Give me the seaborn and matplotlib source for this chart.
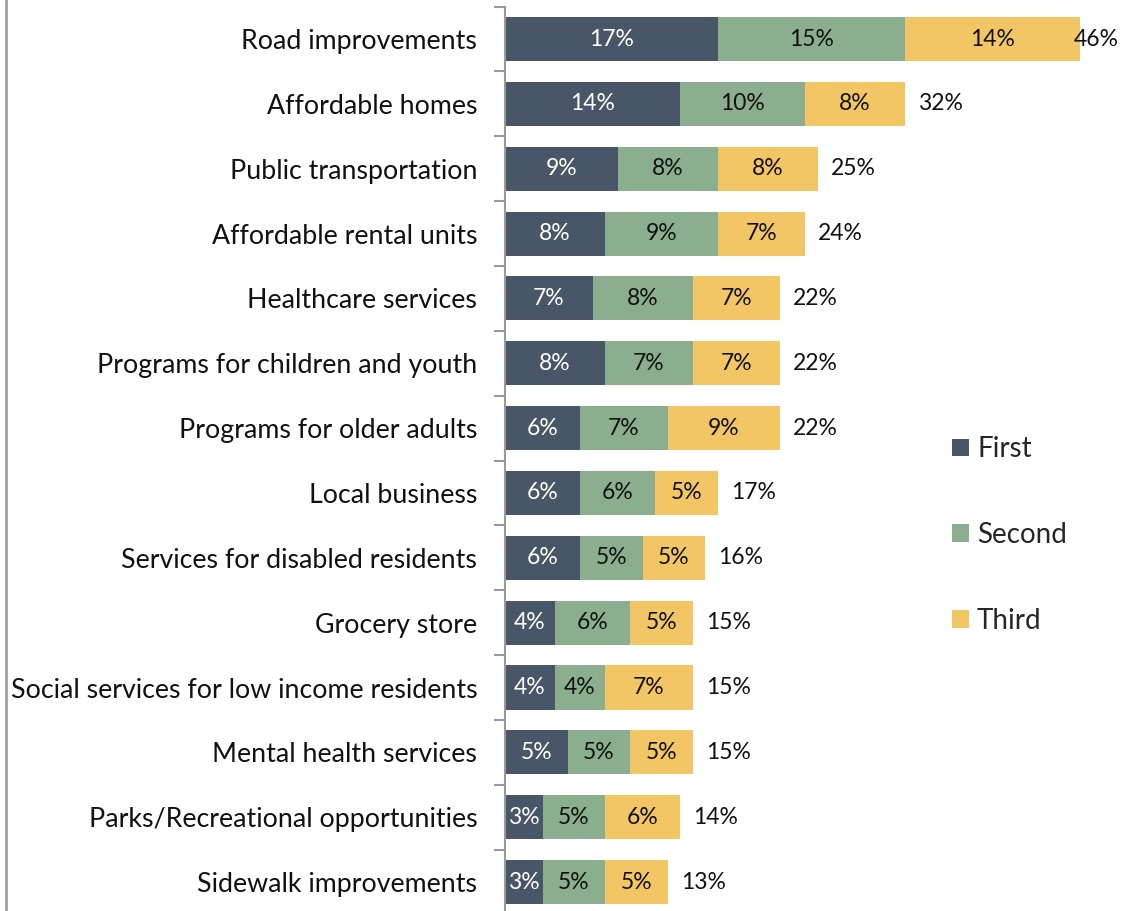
import matplotlib
matplotlib.use("Agg")
import matplotlib.pyplot as plt
from matplotlib.lines import Line2D
from matplotlib.patches import Patch
import numpy as np
import pandas as pd
import seaborn as sns

categories = [
    "Road improvements",
    "Affordable homes",
    "Public transportation",
    "Affordable rental units",
    "Healthcare services",
    "Programs for children and youth",
    "Programs for older adults",
    "Local business",
    "Services for disabled residents",
    "Grocery store",
    "Social services for low income residents",
    "Mental health services",
    "Parks/Recreational opportunities",
    "Sidewalk improvements",
]
first = [17, 14, 9, 8, 7, 8, 6, 6, 6, 4, 4, 5, 3, 3]
second = [15, 10, 8, 9, 8, 7, 7, 6, 5, 6, 4, 5, 5, 5]
third = [14, 8, 8, 7, 7, 7, 9, 5, 5, 5, 7, 5, 6, 5]
series_names = ["First", "Second", "Third"]
colors = ["#485667", "#8BAF8E", "#F2C664"]

sns.set_theme(style="white")
plt.rcParams["font.family"] = ["Lato", "DejaVu Sans"]

df = pd.DataFrame({"category": categories, "First": first,
                   "Second": second, "Third": third})
df["c1"] = df["First"]
df["c2"] = df["First"] + df["Second"]
df["c3"] = df["c2"] + df["Third"]

fig = plt.figure(figsize=(11.27, 9.11), dpi=100)
ax = fig.add_axes([505 / 1127, 1 - 914.5 / 911, 625 / 1127, (914.5 - 6.6) / 911])

bar_w = 0.68
# Stacked bars: draw cumulative totals from the back to the front
for col, color in zip(["c3", "c2", "c1"], colors[::-1]):
    sns.barplot(data=df, x=col, y="category", orient="h", color=color,
                width=bar_w, saturation=1, ax=ax, edgecolor="none")

ax.set_xlim(0, 50)
ax.set_ylim(len(categories) - 0.5, -0.5)
ax.set_xlabel("")
ax.set_ylabel("")
ax.set_xticks([])

# Category labels at the centers, tick marks at the boundaries
ax.set_yticks(range(len(categories)))
ax.set_yticklabels(categories, fontsize=19.3, color="#111111")
ax.tick_params(axis="y", which="major", length=0, pad=20)
ax.set_yticks(np.arange(-0.5, len(categories) + 0.5, 1), minor=True)
ax.tick_params(axis="y", which="minor", left=True, length=8, width=1.5,
               color="#9A9A9A")

for s in ["top", "right", "bottom"]:
    ax.spines[s].set_visible(False)
ax.spines["left"].set_color("#9A9A9A")
ax.spines["left"].set_linewidth(1.5)

# Segment value labels
for i in range(len(categories)):
    starts = [0, first[i], first[i] + second[i]]
    vals = [first[i], second[i], third[i]]
    for j, (s0, v) in enumerate(zip(starts, vals)):
        ax.text(s0 + v / 2, i, f"{v}%", ha="center", va="center",
                fontsize=16.5, color="white" if j == 0 else "#111111")
    total = first[i] + second[i] + third[i]
    ax.text(min(total + 1.05, 45.5), i, f"{total}%", ha="left", va="center",
            fontsize=16.5, color="#111111", clip_on=False)

handles = [Patch(facecolor=c, edgecolor="none") for c in colors]
fig.legend(handles, series_names, loc="upper left",
           bbox_to_anchor=(941 / 1127, 1 - 425 / 911), frameon=False,
           fontsize=20, labelspacing=2.15, handlelength=0.6,
           handleheight=0.6, handletextpad=0.3, borderaxespad=0)

# Thin gray frame line on the left edge
fig.add_artist(Line2D([5.5 / 1127, 5.5 / 1127], [0, 1], color="#A0A0A0",
                      linewidth=2, transform=fig.transFigure))

fig.savefig("out.png", dpi=100)
